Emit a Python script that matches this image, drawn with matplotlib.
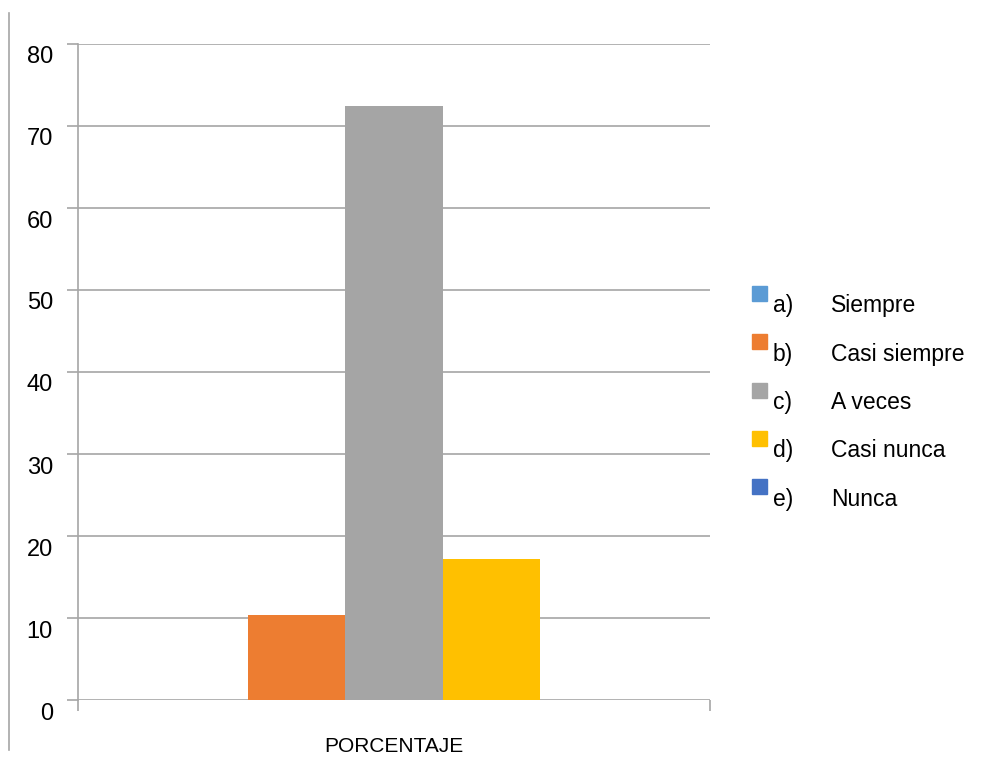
import matplotlib.pyplot as plt
from matplotlib.patches import Rectangle
from matplotlib.lines import Line2D
from matplotlib.transforms import ScaledTranslation
import numpy as np

# Datos del grafico
categoria = "PORCENTAJE"
letras = ["a)", "b)", "c)", "d)", "e)"]
opciones = ["Siempre", "Casi siempre", "A veces", "Casi nunca", "Nunca"]
porcentajes = [0, 10.34, 72.41, 17.24, 0]
colores = ["#5B9BD5", "#ED7D31", "#A5A5A5", "#FFC000", "#4472C4"]

plt.rcParams['font.family'] = ['Liberation Sans', 'DejaVu Sans']

W, H = 982, 762
fig = plt.figure(figsize=(W / 100, H / 100), dpi=100)

# ejes colocados en pixeles
izq, der, arriba, abajo = 78, 710, 44, 700
ax = fig.add_axes([izq / W, (H - abajo) / H, (der - izq) / W, (abajo - arriba) / H])

gris = "#A6A6A6"
ancho = 0.1535
pos = (np.arange(len(porcentajes)) - 2) * ancho
ax.bar(pos, porcentajes, width=ancho, color=colores, zorder=3)

ax.set_xlim(-0.5, 0.5)
ax.set_ylim(0, 80)
ax.set_yticks(np.arange(0, 81, 10))
ax.yaxis.grid(True, color=gris, linewidth=1.2, zorder=0)
ax.set_xticks([-0.5, 0.5])
ax.set_xticklabels(["", ""])
ax.tick_params(axis='both', color=gris, length=8, width=1.2, labelsize=17, pad=10)

# las etiquetas del eje y quedan un poco mas abajo de cada linea
bajar = ScaledTranslation(0, -11 / 100, fig.dpi_scale_trans)
for etiqueta in ax.get_yticklabels():
    etiqueta.set_transform(etiqueta.get_transform() + bajar)

for lado in ["top", "right", "bottom"]:
    ax.spines[lado].set_visible(False)
ax.spines["left"].set_color(gris)
ax.spines["left"].set_linewidth(1.2)

ax.text(0, -46 / (abajo - arriba) * 80, categoria, ha='center', va='center',
        fontsize=15)

# leyenda hecha a mano (cuadros arriba del texto)
for i in range(len(opciones)):
    top = 286 + 48.3 * i
    fig.add_artist(Rectangle((752 / W, 1 - (top + 15) / H), 15 / W, 15 / H,
                             transform=fig.transFigure, color=colores[i]))
    yc = 1 - (top + 20) / H
    fig.text(773 / W, yc, letras[i], fontsize=16.5, va='center')
    fig.text(831 / W, yc, opciones[i], fontsize=16.5, va='center')

# linea vertical del borde izquierdo
fig.add_artist(Line2D([9 / W, 9 / W], [1 - 13 / H, 1 - 750 / H],
                      transform=fig.transFigure, color=gris, linewidth=1.2))

plt.savefig("out.png", dpi=100)
